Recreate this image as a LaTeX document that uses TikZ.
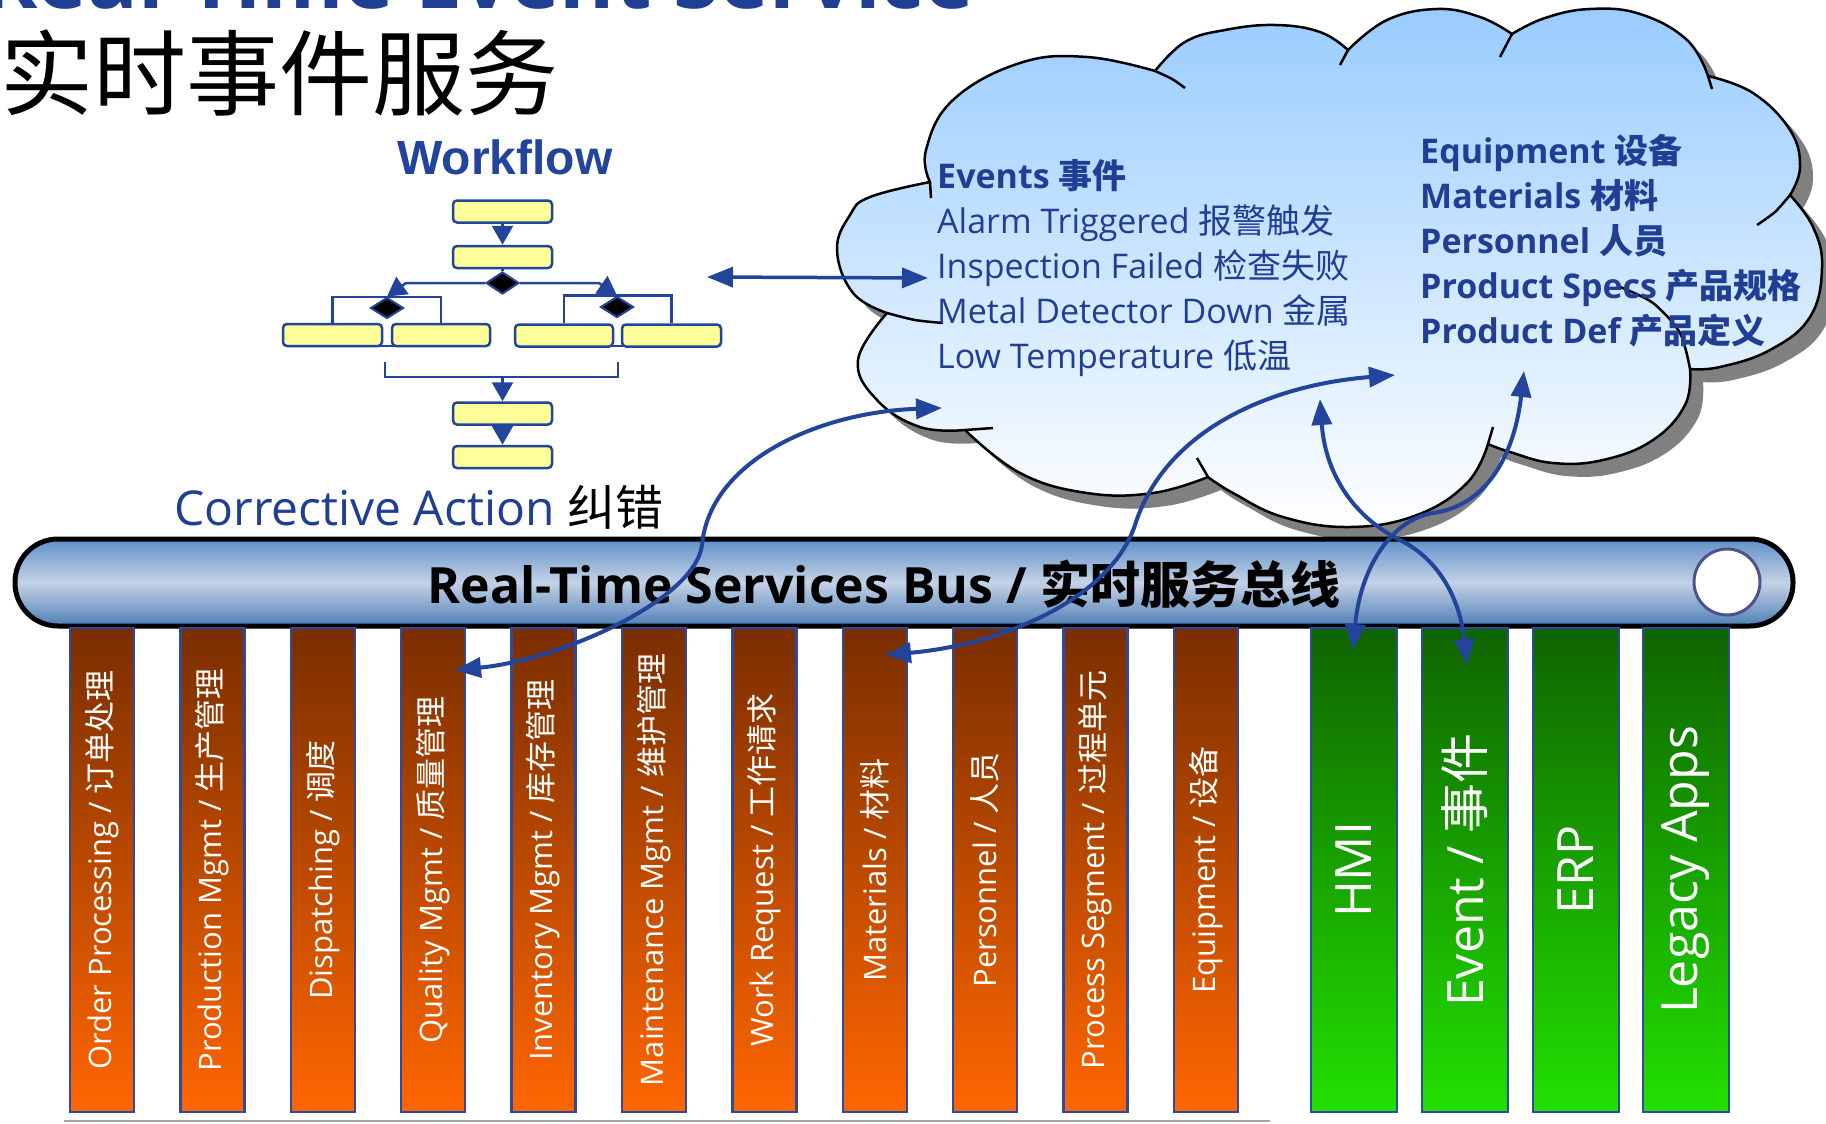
\documentclass[tikz,border=0pt]{standalone}
\usepackage{fontspec}
\setmainfont{Open Sans}
\newfontfamily\cjk{Noto Sans CJK SC}
\newfontfamily\arialf{Liberation Sans}
\usetikzlibrary{arrows.meta,shapes.geometric}
\definecolor{tblue}{HTML}{1F3E94}
\definecolor{abl}{HTML}{22449A}
\definecolor{wfy}{HTML}{FFFF99}
\definecolor{wfb}{HTML}{22449A}
\definecolor{cltop}{HTML}{99CCFF}
\definecolor{orT}{HTML}{7A2E00}
\definecolor{orB}{HTML}{FF6600}
\definecolor{grT}{HTML}{0F6400}
\definecolor{grB}{HTML}{22E000}
\definecolor{busA}{HTML}{5F90C8}
\definecolor{busM}{HTML}{C4D2E6}
\definecolor{busC}{HTML}{4F7FB5}
\definecolor{colb}{HTML}{2E4A9E}
\definecolor{ringc}{HTML}{50508A}
\newcommand{\myfs}[1]{\fontsize{#1}{#1}\selectfont}
\newcommand{\ocolumn}[3]{\node[ocol] (c#1) at (#2,870) {}; \node[olab] (t#1) at (c#1.center) {#3};}
\newcommand{\gcolumn}[3]{\node[gcol] (c#1) at (#2,870) {}; \node[glab] (t#1) at (c#1.center) {#3};}
\def\cloudpath{(930,182)
 -- plot[smooth,tension=.7] coordinates {(930,182) (926,150) (953,100) (1020,63) (1087,57) (1155,71)}
 -- plot[smooth,tension=.7] coordinates {(1155,71) (1185,42) (1225,30) (1275,25) (1320,32) (1348,50)}
 -- plot[smooth,tension=.7] coordinates {(1348,50) (1387,20) (1437,9) (1480,17) (1512,34)}
 -- plot[smooth,tension=.7] coordinates {(1512,34) (1545,18) (1590,9) (1640,14) (1687,40) (1708,76)}
 -- plot[smooth,tension=.7] coordinates {(1708,76) (1753,93) (1790,130) (1800,167) (1790,195)}
 -- plot[smooth,tension=.7] coordinates {(1790,195) (1813,227) (1822,267) (1810,317) (1770,350) (1720,367) (1690,369)}
 -- plot[smooth,tension=.7] coordinates {(1690,369) (1685,405) (1653,440) (1603,460) (1553,463) (1510,452) (1488,444)}
 -- plot[smooth,tension=.7] coordinates {(1488,444) (1467,483) (1417,515) (1350,527) (1283,517) (1233,493) (1208,477)}
 -- plot[smooth,tension=.7] coordinates {(1208,477) (1153,493) (1087,493) (1020,473) (965,430)}
 -- plot[smooth,tension=.7] coordinates {(965,430) (920,427) (877,400) (858,360) (887,313)}
 -- plot[smooth,tension=.7] coordinates {(887,313) (853,293) (837,250) (850,215) (870,197) (930,182)}
 -- cycle}
\begin{document}
\begin{tikzpicture}[x=1pt,y=-1pt,
  wfbox/.style={rectangle,draw=wfb,line width=2.5pt,fill=wfy,rounded corners=4pt,minimum width=99pt,minimum height=22pt,inner sep=0pt},
  wfdia/.style={diamond,draw=wfb,line width=2pt,fill=black,minimum width=33pt,minimum height=22pt,inner sep=0pt},
  wfline/.style={draw=wfb,line width=2.5pt},
  wfarrow/.style={wfline,-{Triangle[length=19pt,width=21pt]}},
  flowarr/.style={draw=abl,line width=4pt,{Triangle[length=26pt,width=20pt]}-{Triangle[length=26pt,width=20pt]}},
  cltext/.style={anchor=base west,text=tblue,font=\myfs{34},inner sep=0pt},
  ocol/.style={rectangle,draw=colb,line width=2.5pt,top color=orT,bottom color=orB,minimum width=64pt,minimum height=484pt,inner sep=0pt},
  gcol/.style={rectangle,draw=colb,line width=2.5pt,top color=grT,bottom color=grB,minimum width=86pt,minimum height=484pt,inner sep=0pt},
  olab/.style={rotate=90,text=white,font=\myfs{31},inner sep=0pt},
  glab/.style={rotate=90,text=white,font=\myfs{50},inner sep=0pt},
  busst/.style={rectangle,rounded corners=43pt,minimum width=1778pt,minimum height=87pt,draw=black,line width=5pt,top color=busA,bottom color=busC,middle color=busM,inner sep=0pt}
]
\useasboundingbox (0,0) rectangle (1826,1124);
\fill[white] (0,0) rectangle (1826,1124);
\clip (0,0) rectangle (1826,1124);

% titles
\node[anchor=base west,text=tblue,font=\bfseries\myfs{84},inner sep=0pt] (ttl) at (-18,9) {Real-Time Event Service};
\node[anchor=base west,font=\cjk\myfs{93},inner sep=0pt] (ttlcn) at (0,108) {实时事件服务};
\node[anchor=base,text=wfb,font=\arialf\bfseries\myfs{48},inner sep=0pt] (wft) at (505,174) {Workflow};
\node[anchor=base west,text=tblue,font=\myfs{48},inner sep=0pt] (ca) at (174,525) {Corrective Action {\cjk\color{black}纠错}};

% workflow
\node[wfbox] (b1) at (502.5,211.5) {};
\node[wfbox] (b2) at (502.5,257) {};
\coordinate (ul) at (332.5,346);
\coordinate (ur) at (441,346);
\draw[wfline] (ul) -- (ur);
\coordinate (vl) at (564,346);
\coordinate (vr) at (671.5,346);
\draw[wfline] (vl) -- (vr);
\node[wfbox] (wa) at (332.5,335) {};
\node[wfbox,minimum width=98pt] (wb) at (441,335) {};
\node[wfbox,minimum width=98pt] (wc) at (564,335.5) {};
\node[wfbox] (wd) at (671.5,335.5) {};
\draw[wfline] (wa.north) -- ++(0,-26) -| (wb.north);
\draw[wfline] (wc.north) -- ++(0,-28) -| (wd.north);
\node[wfdia] (d0) at (502.5,283) {};
\node[wfdia,minimum height=21pt] (d1) at (387,308) {};
\node[wfdia,minimum height=21pt] (d2) at (617,307) {};
\draw[wfarrow] (b1.south) -- (b2.north);
\draw[wfline] (b2.south) -- (d0.north);
\coordinate (kl) at (406,283);
\coordinate (kr) at (599,283);
\draw[wfarrow] (d0.west) -- (kl) -- (d1.north);
\draw[wfarrow] (d0.east) -- (kr) -- (d2.north);
\coordinate (jl) at (385,362);
\coordinate (jr) at (618,362);
\coordinate (jm) at (502.5,377);
\draw[wfline] (jl) -- ++(0,15) -| (jr);
\node[wfbox] (b3) at (502.5,413.5) {};
\node[wfbox] (b4) at (502.5,457) {};
\draw[wfarrow] (jm) -- (b3.north);
\draw[wfarrow] (b3.south) -- (b4.north);

% cloud
\fill[black!50,shift={(13,13)}] \cloudpath;
\shade[top color=cltop,bottom color=white] \cloudpath;
\draw[black,line width=2.5pt,line join=round] \cloudpath;
\begin{scope}[black,line width=2.5pt]
\draw (930,182) -- (931,198);
\draw plot[smooth] coordinates {(1155,71) (1172,79) (1185,88)};
\draw (1348,50) -- (1340,65);
\draw (1512,34) -- (1500,57);
\draw (1708,76) -- (1712,89);
\draw plot[smooth] coordinates {(1790,195) (1775,212) (1757,225)};
\draw plot[smooth] coordinates {(1690,369) (1680,333) (1653,303) (1620,287)};
\draw (1488,444) -- (1493,427);
\draw (1208,477) -- (1197,458);
\draw (965,430) -- (993,428);
\draw plot[smooth] coordinates {(887,313) (915,320) (943,323)};
\end{scope}

% cloud text
\node[cltext,font=\bfseries\myfs{34}] (ev1) at (937,188) {Events {\cjk 事件}};
\node[cltext] (ev2) at (937,233) {Alarm Triggered {\cjk 报警触发}};
\node[cltext] (ev3) at (937,278) {Inspection Failed {\cjk 检查失败}};
\node[cltext] (ev4) at (937,323) {Metal Detector Down {\cjk 金属}};
\node[cltext] (ev5) at (937,368) {Low Temperature {\cjk 低温}};
\node[cltext,font=\bfseries\myfs{34}] (eq1) at (1420,163) {Equipment {\cjk 设备}};
\node[cltext,font=\bfseries\myfs{34}] (eq2) at (1420,208) {Materials {\cjk 材料}};
\node[cltext,font=\bfseries\myfs{34}] (eq3) at (1420,253) {Personnel {\cjk 人员}};
\node[cltext,font=\bfseries\myfs{34}] (eq4) at (1420,298) {Product Specs {\cjk 产品规格}};
\node[cltext,font=\bfseries\myfs{34}] (eq5) at (1420,343) {Product Def {\cjk 产品定义}};

% bus
\node[busst] (bus) at (904,582.5) {};
\node[circle,draw=ringc,line width=3pt,fill=white,minimum size=66pt,inner sep=0pt] (busend) at (1727,582) {};
\node[anchor=base,font=\bfseries\myfs{50},inner sep=0pt] (bustext) at (884,603) {Real-Time Services Bus / {\cjk\bfseries 实时服务总线}};

% columns
\ocolumn{1}{102}{Order Processing / {\cjk 订单处理}}
\ocolumn{2}{212.4}{Production Mgmt / {\cjk 生产管理}}
\ocolumn{3}{322.8}{Dispatching / {\cjk 调度}}
\ocolumn{4}{433.2}{Quality Mgmt / {\cjk 质量管理}}
\ocolumn{5}{543.6}{Inventory Mgmt / {\cjk 库存管理}}
\ocolumn{6}{654}{Maintenance Mgmt / {\cjk 维护管理}}
\ocolumn{7}{764.4}{Work Request / {\cjk 工作请求}}
\ocolumn{8}{874.8}{Materials / {\cjk 材料}}
\ocolumn{9}{985.2}{Personnel / {\cjk 人员}}
\ocolumn{10}{1095.6}{Process Segment / {\cjk 过程单元}}
\ocolumn{11}{1206}{Equipment / {\cjk 设备}}
\gcolumn{12}{1354}{HMI}
\gcolumn{13}{1465}{Event / {\cjk 事件}}
\gcolumn{14}{1576}{ERP}
\gcolumn{15}{1686}{Legacy Apps}

\coordinate (bl1) at (64,1121);
\coordinate (bl2) at (1270,1121);
\draw[black!35,line width=2.5pt] (bl1) -- (bl2);

% flows
\coordinate (wa1) at (707,277);
\coordinate (wa2) at (928,278);
\draw[flowarr,line width=3.5pt] (wa1) -- (wa2);
\coordinate (q1) at (455,670);
\coordinate (q2) at (942,408);
\draw[flowarr] (q1) .. controls (560,660) and (695,600) .. (702,545) .. controls (710,460) and (820,412) .. (q2);
\coordinate (m1) at (885,655);
\coordinate (m2) at (1395,375);
\draw[flowarr] (m1) .. controls (1000,645) and (1110,600) .. (1135,525) .. controls (1165,430) and (1270,385) .. (m2);
\coordinate (h1) at (1320,399);
\coordinate (h2) at (1467,665);
\draw[flowarr] (h1) .. controls (1325,470) and (1350,515) .. (1400,540) .. controls (1440,560) and (1460,600) .. (h2);
\coordinate (e1) at (1524,371);
\coordinate (e2) at (1353,650);
\draw[flowarr] (e1) .. controls (1515,450) and (1490,505) .. (1433,513) .. controls (1390,520) and (1360,570) .. (e2);
\end{tikzpicture}
\end{document}
